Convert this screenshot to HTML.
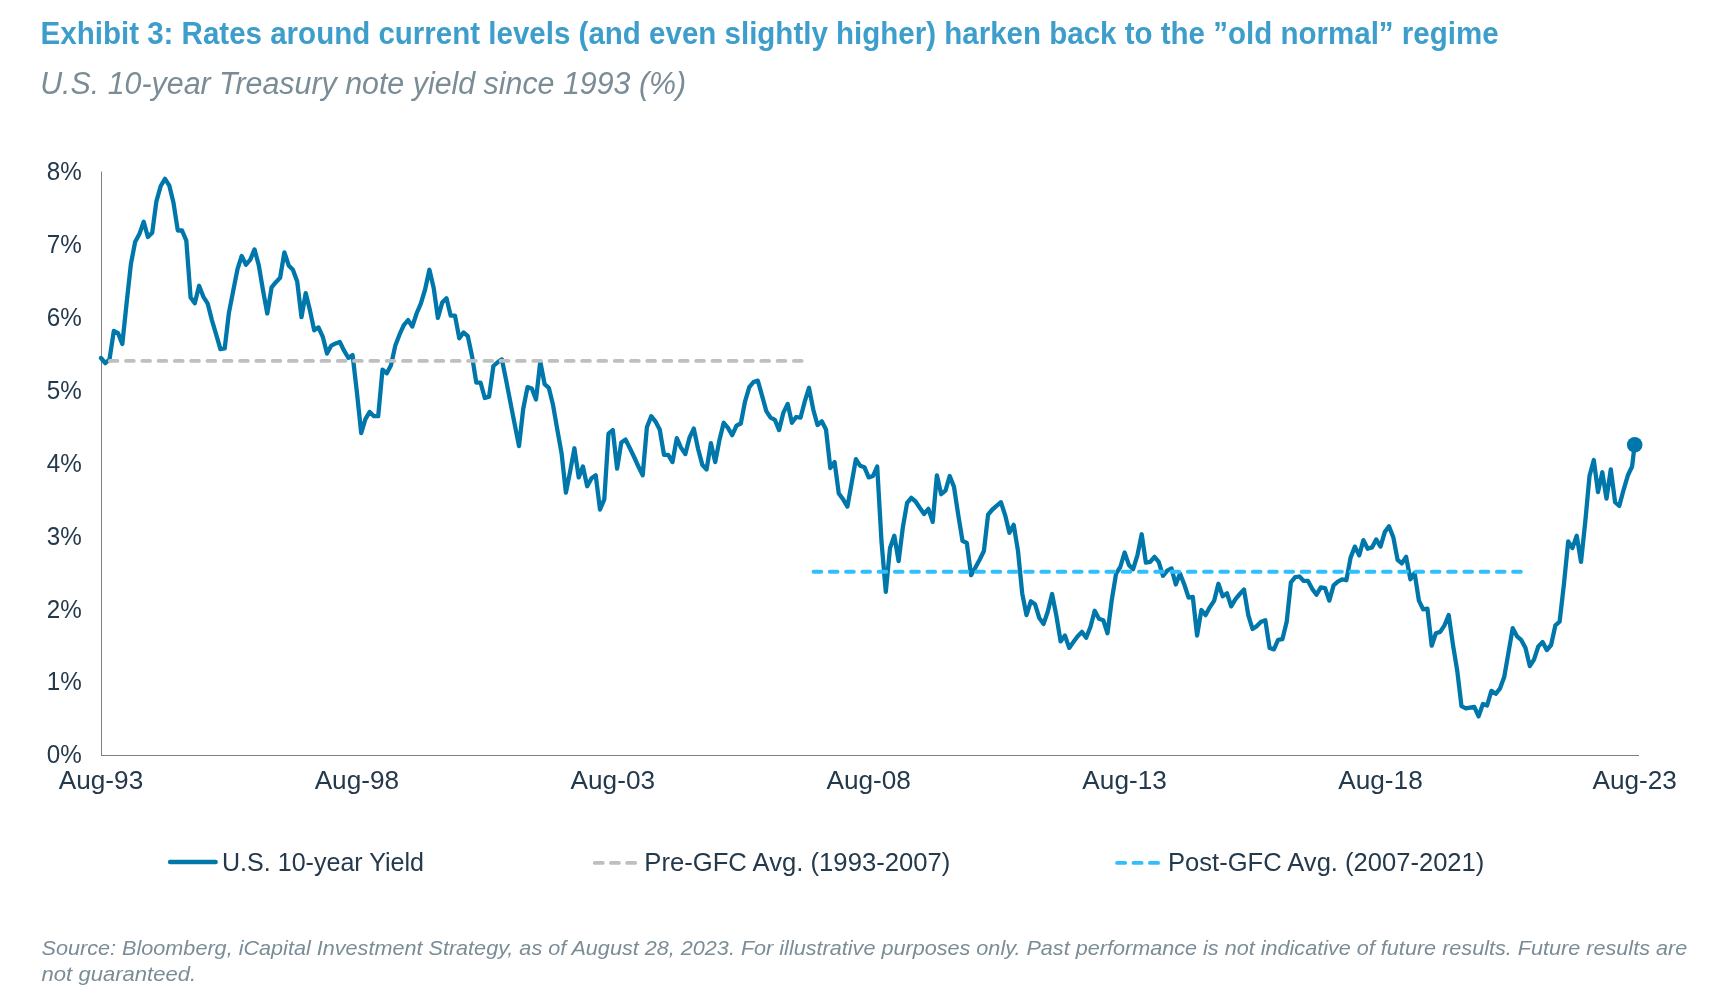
<!DOCTYPE html>
<html><head><meta charset="utf-8"><style>
html,body{margin:0;padding:0;background:#fff;}
body{width:1725px;height:1007px;overflow:hidden;}
svg{display:block;will-change:transform;}
text{font-family:"Liberation Sans",sans-serif;}
.ax{font-size:26px;fill:#24394c;}
.lg{font-size:26px;fill:#24394c;}
.fn{font-size:21px;fill:#7a8c96;font-style:italic;}
</style></head><body>
<svg width="1725" height="1007" viewBox="0 0 1725 1007">
<rect width="1725" height="1007" fill="#fff"/>
<text x="40.6" y="43.8" font-size="31" font-weight="bold" fill="#3e9ecb" textLength="1458" lengthAdjust="spacingAndGlyphs">Exhibit 3: Rates around current levels (and even slightly higher) harken back to the &#8221;old normal&#8221; regime</text>
<text x="40.2" y="93.6" font-size="31" font-style="italic" fill="#7a8c96" textLength="646" lengthAdjust="spacingAndGlyphs">U.S. 10-year Treasury note yield since 1993 (%)</text>
<line x1="101.5" y1="171.5" x2="101.5" y2="755.5" stroke="#808080" stroke-width="1"/>
<line x1="101" y1="755.5" x2="1639" y2="755.5" stroke="#808080" stroke-width="1"/>
<text x="81.8" y="763.2" text-anchor="end" class="ax" textLength="35" lengthAdjust="spacingAndGlyphs">0%</text>
<text x="81.8" y="690.4" text-anchor="end" class="ax" textLength="35" lengthAdjust="spacingAndGlyphs">1%</text>
<text x="81.8" y="617.5" text-anchor="end" class="ax" textLength="35" lengthAdjust="spacingAndGlyphs">2%</text>
<text x="81.8" y="544.7" text-anchor="end" class="ax" textLength="35" lengthAdjust="spacingAndGlyphs">3%</text>
<text x="81.8" y="471.8" text-anchor="end" class="ax" textLength="35" lengthAdjust="spacingAndGlyphs">4%</text>
<text x="81.8" y="398.9" text-anchor="end" class="ax" textLength="35" lengthAdjust="spacingAndGlyphs">5%</text>
<text x="81.8" y="326.1" text-anchor="end" class="ax" textLength="35" lengthAdjust="spacingAndGlyphs">6%</text>
<text x="81.8" y="253.3" text-anchor="end" class="ax" textLength="35" lengthAdjust="spacingAndGlyphs">7%</text>
<text x="81.8" y="180.4" text-anchor="end" class="ax" textLength="35" lengthAdjust="spacingAndGlyphs">8%</text>
<text x="101.0" y="788.8" text-anchor="middle" class="ax" textLength="84.5" lengthAdjust="spacingAndGlyphs">Aug-93</text>
<text x="356.9" y="788.8" text-anchor="middle" class="ax" textLength="84.5" lengthAdjust="spacingAndGlyphs">Aug-98</text>
<text x="612.8" y="788.8" text-anchor="middle" class="ax" textLength="84.5" lengthAdjust="spacingAndGlyphs">Aug-03</text>
<text x="868.7" y="788.8" text-anchor="middle" class="ax" textLength="84.5" lengthAdjust="spacingAndGlyphs">Aug-08</text>
<text x="1124.6" y="788.8" text-anchor="middle" class="ax" textLength="84.5" lengthAdjust="spacingAndGlyphs">Aug-13</text>
<text x="1380.5" y="788.8" text-anchor="middle" class="ax" textLength="84.5" lengthAdjust="spacingAndGlyphs">Aug-18</text>
<text x="1634.7" y="788.8" text-anchor="middle" class="ax" textLength="84.5" lengthAdjust="spacingAndGlyphs">Aug-23</text>

<polyline points="101.0,358.0 105.3,363.1 109.5,359.4 113.8,331.0 118.1,333.2 122.3,344.1 126.6,303.3 130.9,264.0 135.1,242.1 139.4,234.1 143.7,221.7 147.9,237.0 152.2,232.7 156.4,201.3 160.7,186.0 165.0,178.8 169.2,185.3 173.5,202.8 177.8,230.5 182.0,230.5 186.3,240.7 190.6,297.5 194.8,303.3 199.1,285.8 203.4,296.8 207.6,303.3 211.9,320.1 216.2,334.7 220.4,349.2 224.7,348.5 228.9,312.8 233.2,290.9 237.5,269.1 241.7,256.0 246.0,264.7 250.3,259.6 254.5,249.4 258.8,265.4 263.1,290.9 267.3,313.5 271.6,287.3 275.9,282.2 280.1,277.8 284.4,252.3 288.7,265.4 292.9,269.8 297.2,281.5 301.5,317.2 305.7,293.1 310.0,310.6 314.2,330.3 318.5,327.4 322.8,336.8 327.0,353.6 331.3,345.6 335.6,343.4 339.8,341.9 344.1,350.7 348.4,358.0 352.6,355.1 356.9,392.2 361.2,433.0 365.4,419.2 369.7,411.9 374.0,416.2 378.2,416.2 382.5,369.6 386.8,373.3 391.0,365.3 395.3,345.6 399.5,334.7 403.8,325.2 408.1,320.1 412.3,326.6 416.6,313.5 420.9,303.3 425.1,289.5 429.4,269.8 433.7,288.0 437.9,317.9 442.2,302.6 446.5,298.2 450.7,315.7 455.0,315.7 459.3,338.3 463.5,332.5 467.8,336.1 472.1,356.5 476.3,382.7 480.6,382.7 484.8,398.0 489.1,396.6 493.4,366.0 497.6,362.3 501.9,359.4 506.2,380.6 510.4,402.4 514.7,424.3 519.0,446.1 523.2,409.0 527.5,387.1 531.8,388.6 536.0,399.5 540.3,361.6 544.6,384.2 548.8,387.8 553.1,405.3 557.4,430.1 561.6,453.4 565.9,492.7 570.1,471.6 574.4,448.3 578.7,477.4 582.9,466.5 587.2,486.2 591.5,478.2 595.7,475.3 600.0,509.5 604.3,499.3 608.5,433.7 612.8,430.1 617.1,468.7 621.3,442.5 625.6,439.6 629.9,448.3 634.1,457.0 638.4,466.5 642.7,475.3 646.9,427.2 651.2,416.2 655.4,421.3 659.7,429.4 664.0,454.9 668.2,454.9 672.5,462.1 676.8,438.1 681.0,447.6 685.3,454.1 689.6,437.4 693.8,428.6 698.1,449.0 702.4,465.1 706.6,469.4 710.9,443.2 715.2,462.1 719.4,440.3 723.7,422.8 728.0,427.9 732.2,435.2 736.5,425.7 740.8,423.5 745.0,401.7 749.3,387.1 753.5,382.0 757.8,380.6 762.1,395.8 766.3,411.1 770.6,417.7 774.9,419.9 779.1,430.1 783.4,412.6 787.7,403.9 791.9,422.8 796.2,417.0 800.5,417.7 804.7,401.7 809.0,387.8 813.3,409.7 817.5,425.0 821.8,421.3 826.0,429.4 830.3,468.0 834.6,462.1 838.8,493.5 843.1,499.3 847.4,506.6 851.6,483.3 855.9,459.2 860.2,465.8 864.4,467.2 868.7,477.4 873.0,476.0 877.2,466.5 881.5,541.5 885.8,591.8 890.0,548.1 894.3,535.7 898.6,561.2 902.8,527.7 907.1,502.9 911.3,497.8 915.6,501.5 919.9,508.0 924.1,513.9 928.4,508.8 932.7,521.9 936.9,475.3 941.2,494.2 945.5,490.6 949.7,476.0 954.0,486.9 958.3,515.3 962.5,540.8 966.8,543.0 971.1,575.1 975.3,567.8 979.6,559.8 983.9,551.0 988.1,514.6 992.4,509.5 996.6,505.9 1000.9,502.2 1005.2,515.3 1009.4,532.8 1013.7,524.8 1018.0,551.0 1022.2,593.3 1026.5,615.1 1030.8,601.3 1035.0,604.2 1039.3,618.0 1043.6,623.9 1047.8,611.5 1052.1,594.0 1056.4,615.9 1060.6,641.4 1064.9,635.5 1069.2,647.9 1073.4,642.1 1077.7,636.3 1081.9,631.9 1086.2,637.7 1090.5,626.8 1094.7,610.8 1099.0,618.8 1103.3,620.2 1107.5,633.3 1111.8,599.8 1116.1,573.6 1120.3,567.0 1124.6,552.5 1128.9,564.9 1133.1,569.2 1137.4,555.4 1141.7,534.3 1145.9,562.7 1150.2,561.9 1154.5,556.8 1158.7,561.9 1163.0,575.8 1167.2,570.7 1171.5,568.5 1175.8,584.5 1180.0,573.6 1184.3,584.5 1188.6,597.6 1192.8,596.9 1197.1,635.5 1201.4,610.0 1205.6,615.1 1209.9,607.1 1214.2,600.6 1218.4,583.8 1222.7,596.2 1227.0,593.3 1231.2,606.4 1235.5,599.1 1239.8,594.0 1244.0,589.6 1248.3,615.1 1252.5,629.0 1256.8,626.1 1261.1,621.7 1265.3,620.2 1269.6,647.9 1273.9,649.4 1278.1,639.9 1282.4,639.2 1286.7,621.7 1290.9,582.3 1295.2,577.2 1299.5,576.5 1303.7,580.9 1308.0,580.9 1312.3,588.9 1316.5,594.7 1320.8,587.4 1325.1,588.2 1329.3,600.6 1333.6,585.3 1337.8,581.6 1342.1,579.4 1346.4,580.2 1350.6,557.6 1354.9,546.6 1359.2,555.4 1363.4,540.1 1367.7,548.8 1372.0,547.4 1376.2,539.4 1380.5,546.6 1384.8,532.1 1389.0,526.3 1393.3,537.2 1397.6,559.8 1401.8,563.4 1406.1,556.8 1410.4,579.4 1414.6,572.9 1418.9,600.6 1423.1,609.3 1427.4,608.6 1431.7,645.7 1435.9,633.3 1440.2,631.9 1444.5,625.3 1448.7,615.1 1453.0,645.0 1457.3,671.2 1461.5,706.2 1465.8,708.4 1470.1,707.6 1474.3,706.9 1478.6,716.4 1482.9,704.0 1487.1,705.5 1491.4,690.9 1495.7,693.8 1499.9,688.7 1504.2,677.1 1508.4,653.0 1512.7,628.2 1517.0,636.3 1521.2,639.9 1525.5,647.9 1529.8,666.1 1534.0,659.6 1538.3,646.5 1542.6,642.1 1546.8,650.1 1551.1,645.0 1555.4,625.3 1559.6,621.7 1563.9,584.5 1568.2,541.5 1572.4,548.1 1576.7,535.7 1581.0,561.9 1585.2,522.6 1589.5,476.0 1593.8,460.0 1598.0,492.0 1602.3,472.3 1606.5,498.6 1610.8,469.4 1615.1,502.2 1619.3,505.9 1623.6,489.8 1627.9,475.3 1632.1,466.5 1634.7,444.7" fill="none" stroke="#0077aa" stroke-width="4.3" stroke-linejoin="round" stroke-linecap="round"/>
<circle cx="1634.7" cy="444.7" r="7.8" fill="#0077aa"/>
<line x1="101.5" y1="360.9" x2="801.8" y2="360.9" stroke="#bfbfbf" stroke-width="3.9" stroke-linecap="round" stroke-dasharray="7.7 8.59" stroke-dashoffset="8.04"/>
<line x1="813.55" y1="571.8" x2="1521" y2="571.8" stroke="#31befd" stroke-width="3.9" stroke-linecap="round" stroke-dasharray="7.7 8.57"/>
<line x1="170.1" y1="861.9" x2="215.6" y2="861.9" stroke="#0077aa" stroke-width="4.5" stroke-linecap="round"/>
<text x="222" y="871.2" class="lg" textLength="202" lengthAdjust="spacingAndGlyphs">U.S. 10-year Yield</text>
<line x1="594.75" y1="862.9" x2="635.2" y2="862.9" stroke="#bfbfbf" stroke-width="3.9" stroke-linecap="round" stroke-dasharray="8 8.2"/>
<text x="644.3" y="871.2" class="lg" textLength="306" lengthAdjust="spacingAndGlyphs">Pre-GFC Avg. (1993-2007)</text>
<line x1="1117.05" y1="862.9" x2="1158.1" y2="862.9" stroke="#31befd" stroke-width="3.9" stroke-linecap="round" stroke-dasharray="8.1 8.35"/>
<text x="1168" y="871.2" class="lg" textLength="316.3" lengthAdjust="spacingAndGlyphs">Post-GFC Avg. (2007-2021)</text>
<text x="41.6" y="955.1" class="fn" textLength="1645.6" lengthAdjust="spacingAndGlyphs">Source: Bloomberg, iCapital Investment Strategy, as of August 28, 2023. For illustrative purposes only. Past performance is not indicative of future results. Future results are</text>
<text x="41.6" y="980.9" class="fn" textLength="154.5" lengthAdjust="spacingAndGlyphs">not guaranteed.</text>
</svg>
</body></html>
